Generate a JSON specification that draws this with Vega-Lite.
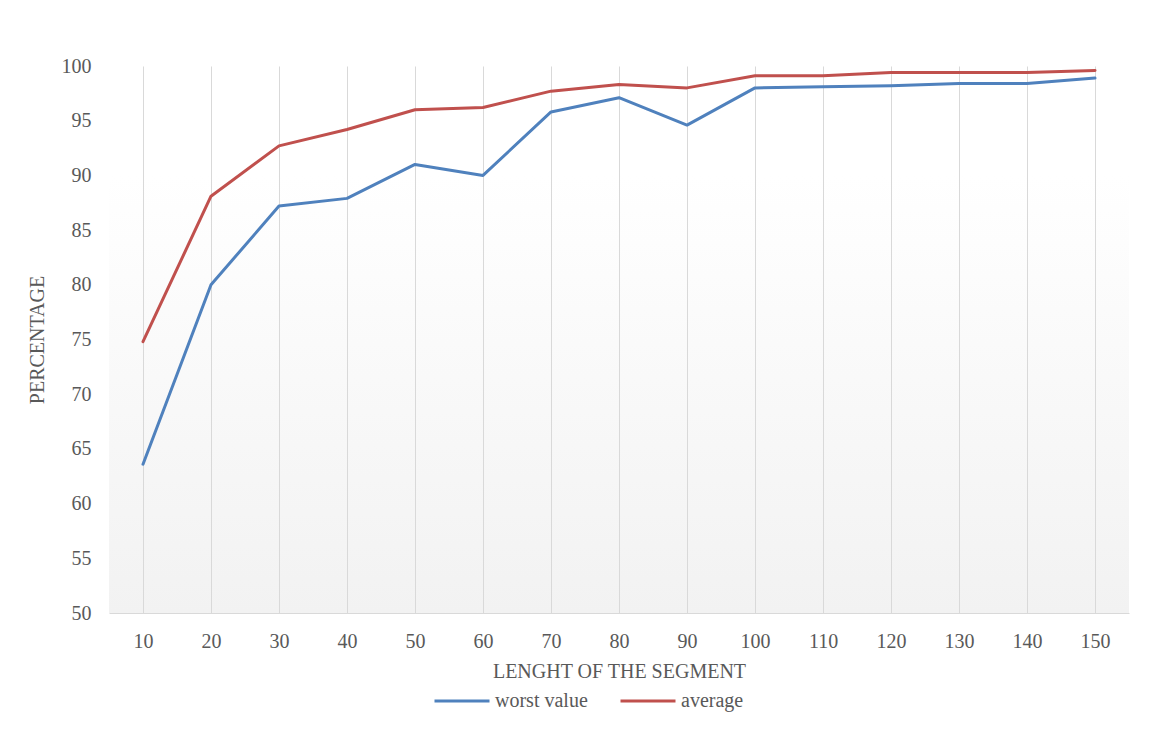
{
  "$schema": "https://vega.github.io/schema/vega-lite/v6.json",
  "autosize": "none",
  "width": 1020,
  "height": 547,
  "padding": {"left": 109, "top": 66, "right": 20, "bottom": 118},
  "background": "white",
  "config": {
    "font": "Liberation Serif",
    "style": {"guide-label": {"font": "Liberation Serif"}, "guide-title": {"font": "Liberation Serif"}},
    "view": {
      "stroke": null,
      "fill": {"gradient": "linear", "x1": 0, "y1": 0, "x2": 0, "y2": 1, "stops": [{"offset": 0, "color": "#ffffff"}, {"offset": 0.2, "color": "#ffffff"}, {"offset": 1, "color": "#f2f2f2"}]}
    },
    "axis": {
      "labelFont": "Liberation Serif",
      "titleFont": "Liberation Serif",
      "labelFontSize": 20,
      "titleFontSize": 20,
      "labelColor": "#595959",
      "titleColor": "#595959",
      "titleFontWeight": "normal",
      "ticks": false
    },
    "legend": {
      "labelFont": "Liberation Serif",
      "labelFontSize": 20,
      "labelColor": "#595959"
    }
  },
  "data": {
    "values": [
      {"len": 10, "series": "worst value", "pct": 63.6},
      {"len": 20, "series": "worst value", "pct": 80.0},
      {"len": 30, "series": "worst value", "pct": 87.2},
      {"len": 40, "series": "worst value", "pct": 87.9},
      {"len": 50, "series": "worst value", "pct": 91.0},
      {"len": 60, "series": "worst value", "pct": 90.0},
      {"len": 70, "series": "worst value", "pct": 95.8},
      {"len": 80, "series": "worst value", "pct": 97.1},
      {"len": 90, "series": "worst value", "pct": 94.6},
      {"len": 100, "series": "worst value", "pct": 98.0},
      {"len": 110, "series": "worst value", "pct": 98.1},
      {"len": 120, "series": "worst value", "pct": 98.2},
      {"len": 130, "series": "worst value", "pct": 98.4},
      {"len": 140, "series": "worst value", "pct": 98.4},
      {"len": 150, "series": "worst value", "pct": 98.9},
      {"len": 10, "series": "average", "pct": 74.8},
      {"len": 20, "series": "average", "pct": 88.1},
      {"len": 30, "series": "average", "pct": 92.7},
      {"len": 40, "series": "average", "pct": 94.2},
      {"len": 50, "series": "average", "pct": 96.0},
      {"len": 60, "series": "average", "pct": 96.2},
      {"len": 70, "series": "average", "pct": 97.7},
      {"len": 80, "series": "average", "pct": 98.3},
      {"len": 90, "series": "average", "pct": 98.0},
      {"len": 100, "series": "average", "pct": 99.1},
      {"len": 110, "series": "average", "pct": 99.1},
      {"len": 120, "series": "average", "pct": 99.4},
      {"len": 130, "series": "average", "pct": 99.4},
      {"len": 140, "series": "average", "pct": 99.4},
      {"len": 150, "series": "average", "pct": 99.6}
    ]
  },
  "mark": {"type": "line", "strokeWidth": 3, "strokeCap": "round", "strokeJoin": "round"},
  "encoding": {
    "x": {
      "field": "len",
      "type": "ordinal",
      "sort": "ascending",
      "scale": {"type": "point", "padding": 0.5},
      "axis": {
        "title": "LENGHT OF THE SEGMENT",
        "labelAngle": 0,
        "grid": true,
        "gridColor": "#d9d9d9",
        "gridWidth": 1,
        "domainColor": "#d9d9d9",
        "domainWidth": 1,
        "labelPadding": 18,
        "titlePadding": 10
      }
    },
    "y": {
      "field": "pct",
      "type": "quantitative",
      "scale": {"domain": [50, 100], "nice": false, "zero": false},
      "axis": {
        "title": "PERCENTAGE",
        "values": [50, 55, 60, 65, 70, 75, 80, 85, 90, 95, 100],
        "grid": false,
        "domain": false,
        "labelPadding": 18,
        "titlePadding": 14
      }
    },
    "color": {
      "field": "series",
      "type": "nominal",
      "sort": ["worst value", "average"],
      "scale": {"domain": ["worst value", "average"], "range": ["#4f81bd", "#c0504d"]},
      "legend": {
        "title": null,
        "orient": "none",
        "direction": "horizontal",
        "legendX": 324,
        "legendY": 606,
        "symbolType": "stroke",
        "symbolSize": 3025,
        "symbolStrokeWidth": 3,
        "labelFont": "Liberation Serif",
        "labelFontSize": 20,
        "labelColor": "#595959",
        "labelOffset": 4,
        "columnPadding": 26,
        "labelLimit": 300,
        "encode": {"labels": {"update": {"font": {"value": "Liberation Serif"}}}}
      }
    }
  }
}
